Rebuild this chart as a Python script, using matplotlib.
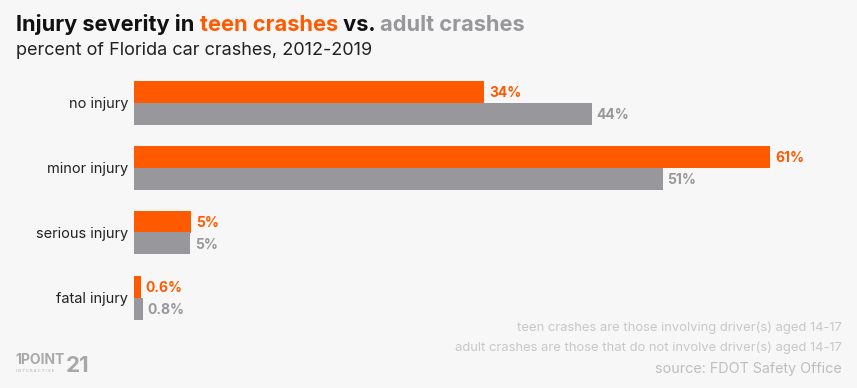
import matplotlib.pyplot as plt
import numpy as np

# data
categories = ["no injury", "minor injury", "serious injury", "fatal injury"]
teen = [33.6, 61.0, 5.5, 0.65]
adult = [43.9, 50.7, 5.4, 0.85]
teen_labels = ["34%", "61%", "5%", "0.6%"]
adult_labels = ["44%", "51%", "5%", "0.8%"]

ORANGE = "#FF5A00"
GRAY = "#98979B"
BG = "#F7F7F7"

plt.rcParams['font.family'] = ['Inter', 'DejaVu Sans']

W, H = 857, 388
fig = plt.figure(figsize=(W / 100, H / 100), dpi=100, facecolor=BG)
ax = fig.add_axes([134 / W, (H - 330) / H, 709 / W, 260 / H])
ax.set_facecolor(BG)

y = np.arange(len(categories))
bh = 22 / 65
ax.barh(y - bh / 2, teen, height=bh, color=ORANGE)
ax.barh(y + bh / 2, adult, height=bh, color=GRAY)

for i in range(len(categories)):
    ax.annotate(teen_labels[i], (teen[i], y[i] - bh / 2), xytext=(3.6, -1),
                textcoords="offset points", va="center", ha="left",
                color=ORANGE, fontsize=10, fontweight="bold")
    ax.annotate(adult_labels[i], (adult[i], y[i] + bh / 2), xytext=(3.6, -1),
                textcoords="offset points", va="center", ha="left",
                color=GRAY, fontsize=10, fontweight="bold")

ax.set_xlim(0, 68)
ax.set_ylim(3.5, -0.5)
ax.set_yticks(y)
ax.set_yticklabels(categories, fontsize=10.5, color="#222222")
ax.tick_params(axis="y", length=0, pad=4)
ax.set_xticks([])
for s in ax.spines.values():
    s.set_visible(False)

# title with coloured words
fig.canvas.draw()
r = fig.canvas.get_renderer()
x0 = 16 / W
parts = [("Injury severity in ", "#111111"), ("teen crashes", ORANGE),
         (" vs. ", "#111111"), ("adult crashes", GRAY)]
for txt, c in parts:
    t = fig.text(x0, 1 - 31 / H, txt, color=c, fontsize=15.7,
                 fontweight="bold", ha="left", va="baseline")
    bb = t.get_window_extent(renderer=r)
    x0 += bb.width / W
fig.text(16 / W, 1 - 55 / H, "percent of Florida car crashes, 2012-2019",
         fontsize=13, color="#222222", ha="left", va="baseline")

# footnotes
fn = "#C8C8C8"
fig.text(842 / W, 1 - 331 / H, "teen crashes are those involving driver(s) aged 14-17",
         fontsize=9.4, color=fn, ha="right", va="baseline")
fig.text(842 / W, 1 - 351 / H, "adult crashes are those that do not involve driver(s) aged 14-17",
         fontsize=9.4, color=fn, ha="right", va="baseline")
fig.text(842 / W, 1 - 373 / H, "source: FDOT Safety Office",
         fontsize=10.3, color="#BEBEBE", ha="right", va="baseline")

# logo
fig.text(15 / W, 1 - 364 / H, "1POINT", fontsize=10, fontweight="bold",
         color="#A8A8A8", ha="left", va="baseline", fontstretch="condensed")
fig.text(66 / W, 1 - 372 / H, "21", fontsize=16, fontweight="bold",
         color="#A8A8A8", ha="left", va="baseline")
fig.text(16 / W, 1 - 372 / H, "I N T E R A C T I V E", fontsize=3,
         color="#B0B0B0", ha="left", va="baseline")

fig.savefig("out.png", dpi=100, facecolor=BG)
